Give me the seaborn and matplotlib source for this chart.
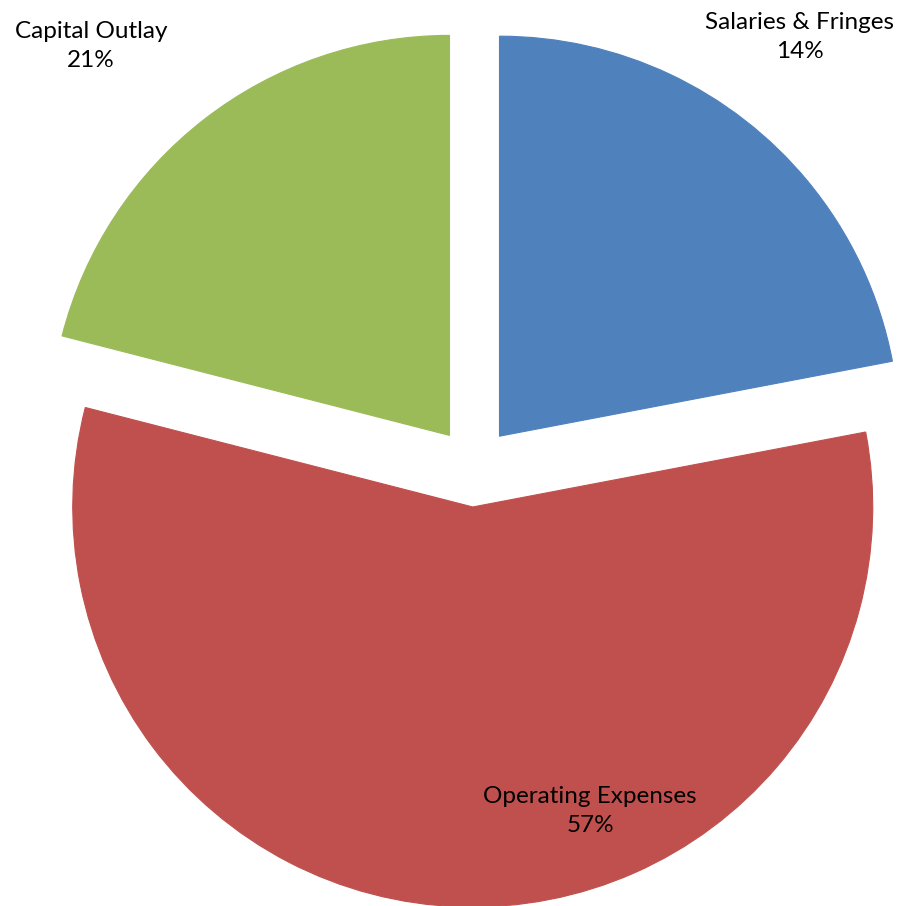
import matplotlib
matplotlib.use("Agg")
import matplotlib.pyplot as plt
import numpy as np
import seaborn as sns

# Budget shares (percent of total)
categories = ["Salaries & Fringes", "Operating Expenses", "Capital Outlay"]
shares = [14, 57, 21]
unallocated = 100 - sum(shares)   # remainder, shown with the salaries slice

sns.set_theme(style="white")
plt.rcParams["font.family"] = ["Lato", "DejaVu Sans"]

palette = {"Salaries & Fringes": "#4F81BD",
           "Operating Expenses": "#C0504D",
           "Capital Outlay": "#9BBB59"}

sizes = [shares[0], unallocated, shares[1], shares[2]]
colors = [palette[categories[0]], palette[categories[0]],
          palette[categories[1]], palette[categories[2]]]
groups = [[0, 1], [2], [3]]   # wedges that move out together

fig = plt.figure(figsize=(9.03, 9.06), dpi=100)
ax = fig.add_axes([0, 0, 1, 1])
wedges, _ = ax.pie(sizes, colors=colors, startangle=90, counterclock=False,
                   radius=1.0, wedgeprops=dict(linewidth=0.8))
for w, c in zip(wedges, colors):
    w.set_edgecolor(c)

# pull each slice out from the centre along its bisector
explode = 0.1
for g in groups:
    t1 = min(wedges[i].theta1 for i in g)
    t2 = max(wedges[i].theta2 for i in g)
    mid = np.deg2rad((t1 + t2) / 2)
    for i in g:
        wedges[i].set_center((explode * np.cos(mid), explode * np.sin(mid)))

ax.set_xlim(-1.185, 1.0725)
ax.set_ylim(-1.0975, 1.1675)
ax.set_aspect("equal")
ax.axis("off")

W, H = 903, 906
# baseline of the percentage line of each label, in pixels from top-left
label_pos = {"Salaries & Fringes": (800, 58),
             "Operating Expenses": (590, 832),
             "Capital Outlay": (91, 67)}
for name, val in zip(categories, shares):
    x, y = label_pos[name]
    fig.text(x / W, 1 - y / H, f"{name}\n{val}%", ha="center", va="baseline",
             multialignment="center", fontsize=17.5, color="black",
             linespacing=1.45)

fig.savefig("out.png", dpi=100)
